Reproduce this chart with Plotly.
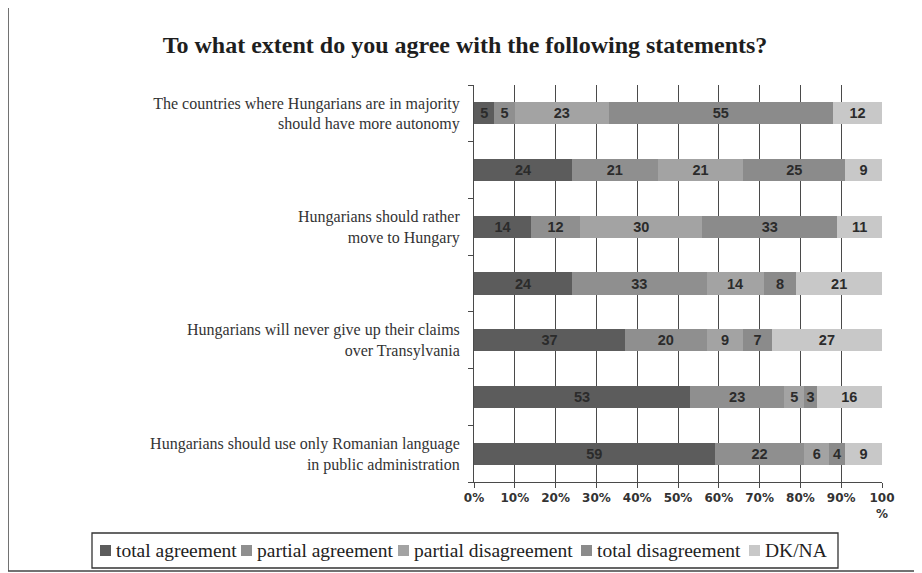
import plotly.graph_objects as go

row_ids = ["r1", "r2", "r3", "r4", "r5", "r6", "r7"]
row_labels = [
    "The countries where Hungarians are in majority<br>should have more autonomy",
    "",
    "Hungarians should rather<br>move to Hungary",
    "",
    "Hungarians will never give up their claims<br>over Transylvania",
    "",
    "Hungarians should use only Romanian language<br>in public administration",
]
series_names = ["total agreement", "partial agreement", "partial disagreement",
                "total disagreement", "DK/NA"]
total_agreement = [5, 24, 14, 24, 37, 53, 59]
partial_agreement = [5, 21, 12, 33, 20, 23, 22]
partial_disagreement = [23, 21, 30, 14, 9, 5, 6]
total_disagreement = [55, 25, 33, 8, 7, 3, 4]
dk_na = [12, 9, 11, 21, 27, 16, 9]
x_tick_vals = [0, 10, 20, 30, 40, 50, 60, 70, 80, 90, 100]
x_tick_text = ["0%", "10%", "20%", "30%", "40%", "50%", "60%", "70%", "80%", "90%", "100<br>%"]

colors = ["#5c5c5c", "#8f8f8f", "#a3a3a3", "#8b8b8b", "#c8c8c8"]
all_series = [total_agreement, partial_agreement, partial_disagreement,
              total_disagreement, dk_na]

fig = go.Figure()
for name, vals, col in zip(series_names, all_series, colors):
    fig.add_trace(go.Bar(
        y=row_ids, x=vals, name=name, orientation="h",
        marker=dict(color=col, line=dict(width=0)),
        text=[str(v) for v in vals], textposition="inside",
        insidetextanchor="middle", textangle=0,
        textfont=dict(family="Liberation Sans", size=14.5, color="#2b2b2b", weight="bold"),
        width=0.39, showlegend=False,
    ))

# page offset of the plot div inside the body (default 8px body margin)
OFF = 8
W, H = 922 - OFF, 573 - OFF
L, R, T, B = 474 - OFF, 882 - OFF, 85 - OFF, 482 - OFF
pw, ph = R - L, B - T

def px_x(x):
    return (x - OFF - L) / pw

def px_y(y):
    return (B - (y - OFF)) / ph

shapes = [dict(type="rect", xref="paper", yref="paper",
               x0=px_x(8), x1=px_x(921), y0=px_y(571), y1=px_y(6),
               line=dict(color="#444", width=1.5), fillcolor="rgba(0,0,0,0)", layer="below"),
          dict(type="rect", xref="paper", yref="paper",
               x0=px_x(92), x1=px_x(838), y0=px_y(568), y1=px_y(533),
               line=dict(color="#333", width=1.3), fillcolor="white", layer="below")]
annotations = []
legend_sq_x = [100, 241, 398, 581, 749]
for name, col, sx in zip(series_names, colors, legend_sq_x):
    shapes.append(dict(type="rect", xref="paper", yref="paper",
                       x0=px_x(sx), x1=px_x(sx + 11), y0=px_y(556), y1=px_y(545),
                       line=dict(width=0), fillcolor=col))
    annotations.append(dict(xref="paper", yref="paper", x=px_x(sx + 14), y=px_y(550.5),
                            text=name, showarrow=False, xanchor="left", yanchor="middle",
                            font=dict(family="Liberation Serif", size=19.5, color="#222")))

fig.update_layout(
    width=W, height=H,
    margin=dict(l=L, r=W - R, t=T, b=H - B, autoexpand=False),
    barmode="stack",
    paper_bgcolor="white", plot_bgcolor="white",
    uniformtext=dict(minsize=14.5, mode="show"),
    title=dict(text="<b>To what extent do you agree with the following statements?</b>",
               x=(465 - OFF) / W, xanchor="center", y=1 - (45 - OFF) / H, yanchor="middle",
               font=dict(family="Liberation Serif", size=24, color="#1e1e1e")),
    showlegend=False,
    xaxis=dict(range=[0, 100], tickvals=x_tick_vals, ticktext=x_tick_text,
               showgrid=True, gridcolor="#4a4a4a", gridwidth=1,
               showline=True, linecolor="#4a4a4a", linewidth=1,
               ticks="outside", ticklen=5, tickcolor="#4a4a4a",
               tickfont=dict(family="DejaVu Sans", size=12, color="#333", weight="bold"),
               zeroline=False, fixedrange=True),
    yaxis=dict(type="category", categoryorder="array", categoryarray=row_ids,
               autorange="reversed", tickvals=row_ids, ticktext=row_labels,
               tickson="boundaries", ticks="outside", ticklen=5, tickcolor="#4a4a4a",
               showgrid=False, showline=True, linecolor="#4a4a4a", linewidth=1,
               tickfont=dict(family="Liberation Serif", size=16, color="#333"),
               ticklabelstandoff=10),
    shapes=shapes,
    annotations=annotations,
)

fig.write_html("out.html")
